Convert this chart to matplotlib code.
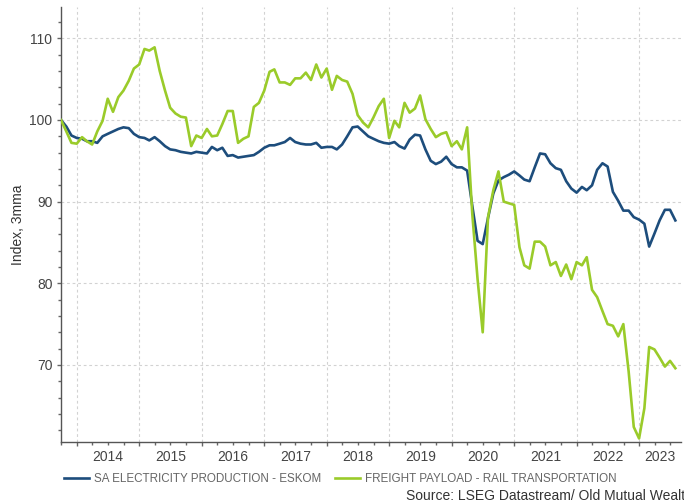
import numpy as np
import pandas as pd
import matplotlib
matplotlib.use("Agg")
import matplotlib.pyplot as plt
import matplotlib.dates as mdates
from matplotlib.ticker import MultipleLocator
from matplotlib.transforms import blended_transform_factory

plt.rcParams['font.family'] = ['Liberation Sans', 'DejaVu Sans']

# index, 3mma (rebased to 100), monthly from Sep 2013
dates = pd.date_range("2013-09-30", periods=119, freq="ME")

eskom = [
    100.0, 99.2, 98.1, 97.8, 97.7, 97.4, 97.4, 97.2, 98.0, 98.3,
    98.6, 98.9, 99.1, 99.0, 98.3, 97.9, 97.8, 97.5, 97.9, 97.4,
    96.8, 96.4, 96.3, 96.1, 96.0, 95.9, 96.1, 96.0, 95.9, 96.7,
    96.3, 96.6, 95.6, 95.7, 95.4, 95.5, 95.6, 95.7, 96.1, 96.6,
    96.9, 96.9, 97.1, 97.3, 97.8, 97.3, 97.1, 97.0, 97.0, 97.2,
    96.6, 96.7, 96.7, 96.4, 97.0, 98.0, 99.1, 99.2, 98.6, 98.0,
    97.7, 97.4, 97.2, 97.1, 97.3, 96.8, 96.5, 97.6, 98.2, 98.1,
    96.4, 95.0, 94.6, 94.9, 95.5, 94.6, 94.2, 94.2, 93.8, 89.5,
    85.2, 84.8, 88.0, 91.0, 92.6, 93.0, 93.3, 93.7, 93.2, 92.7,
    92.5, 94.2, 95.9, 95.8, 94.7, 94.1, 93.9, 92.5, 91.6, 91.1,
    91.8, 91.4, 92.0, 93.9, 94.7, 94.3, 91.2, 90.1, 88.9, 88.9,
    88.1, 87.8, 87.3, 84.5, 86.1, 87.7, 89.0, 89.0, 87.7,
]

freight = [
    100.0, 98.6, 97.2, 97.1, 97.9, 97.4, 97.0, 98.6, 99.9, 102.6,
    101.0, 102.8, 103.6, 104.8, 106.3, 106.8, 108.7, 108.5, 108.9, 106.0,
    103.6, 101.5, 100.8, 100.4, 100.3, 96.8, 98.1, 97.8, 98.9, 98.0,
    98.1, 99.5, 101.1, 101.1, 97.2, 97.7, 98.0, 101.6, 102.1, 103.6,
    105.9, 106.2, 104.6, 104.6, 104.3, 105.1, 105.1, 105.8, 104.9, 106.8,
    105.2, 106.3, 103.7, 105.4, 104.9, 104.7, 103.2, 100.6, 99.7, 99.1,
    100.3, 101.7, 102.6, 97.8, 99.9, 99.1, 102.1, 100.9, 101.4, 103.0,
    100.1, 98.9, 97.9, 98.3, 98.5, 96.8, 97.4, 96.4, 99.1, 88.5,
    80.5, 74.0, 88.1, 91.4, 93.7, 90.0, 89.8, 89.6, 84.4, 82.2,
    81.8, 85.1, 85.1, 84.5, 82.2, 82.6, 80.9, 82.3, 80.5, 82.6,
    82.2, 83.2, 79.2, 78.3, 76.6, 75.0, 74.8, 73.5, 75.0, 69.2,
    62.4, 61.0, 64.7, 72.2, 71.9, 70.9, 69.8, 70.5, 69.6,
]

labels = ["SA ELECTRICITY PRODUCTION - ESKOM", "FREIGHT PAYLOAD - RAIL TRANSPORTATION"]
colors = ["#1d4d7c", "#9acb2a"]
years = list(range(2014, 2024))

fig = plt.figure(figsize=(6.84, 5.04), dpi=100)
ax = fig.add_axes([0.0892, 0.1236, 0.9064, 0.8619])

ax.plot(dates, eskom, color=colors[0], lw=1.9, label=labels[0], zorder=3)
ax.plot(dates, freight, color=colors[1], lw=1.9, label=labels[1], zorder=3)

xmin = dates[0]
xmax = pd.Timestamp("2023-09-02")
ax.set_xlim(xmin, xmax)
ax.set_ylim(60.6, 113.8)

# ticks: years major, quarters minor
ax.xaxis.set_major_locator(mdates.YearLocator())
ax.xaxis.set_minor_locator(mdates.MonthLocator(bymonth=[4, 7, 10]))
ax.xaxis.set_major_formatter(plt.NullFormatter())
ax.yaxis.set_major_locator(MultipleLocator(10))
ax.yaxis.set_minor_locator(MultipleLocator(2))

ax.tick_params(axis='both', which='major', length=3.2, width=1, color='#666666',
               labelsize=10, labelcolor='#444444', direction='out')
ax.tick_params(axis='both', which='minor', length=2, width=1, color='#666666', direction='out')
ax.tick_params(axis='y', pad=3)

# year labels centred in the visible part of each year
trans = blended_transform_factory(ax.transData, ax.transAxes)
for y in years:
    a = max(pd.Timestamp(f"{y}-01-01"), xmin)
    b = min(pd.Timestamp(f"{y + 1}-01-01"), xmax)
    mid = mdates.date2num(a) + (mdates.date2num(b) - mdates.date2num(a)) / 2
    ax.text(mid, -0.035, str(y), transform=trans, ha='center', va='center',
            fontsize=10, color='#444444')

ax.grid(True, which='major', color='#d2d2d2', linestyle=(0, (2.5, 2.5)), lw=0.8)
for s in ['top', 'right']:
    ax.spines[s].set_visible(False)
for s in ['left', 'bottom']:
    ax.spines[s].set_color('#555555')
    ax.spines[s].set_linewidth(1)

ax.set_ylabel("Index, 3mma", fontsize=10, color='#333333', labelpad=3)

fig.legend(loc='center left', bbox_to_anchor=(0.087, 0.0496), ncol=2, frameon=False,
           fontsize=8.4, handlelength=2.1, handletextpad=0.45, columnspacing=1.2,
           labelcolor='#666666', borderaxespad=0)

# source line runs off the right edge, as in the original
fig.text(0.594, 0.0159, "Source: LSEG Datastream/ Old Mutual Wealth", fontsize=10,
         color='#333333', ha='left', va='center')

fig.savefig("out.png", dpi=100)
